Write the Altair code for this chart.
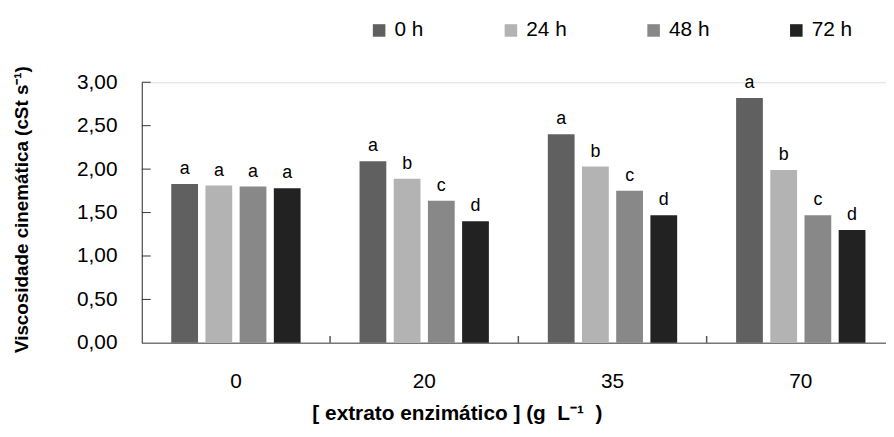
import altair as alt
import pandas as pd

concs = ["0", "20", "35", "70"]
hours = ["0 h", "24 h", "48 h", "72 h"]
visc_0h = [1.83, 2.09, 2.40, 2.82]
visc_24h = [1.81, 1.89, 2.03, 1.99]
visc_48h = [1.80, 1.635, 1.75, 1.47]
visc_72h = [1.78, 1.40, 1.47, 1.30]
letters_0h = ["a", "a", "a", "a"]
letters_24h = ["a", "b", "b", "b"]
letters_48h = ["a", "c", "c", "c"]
letters_72h = ["a", "d", "d", "d"]
colors = ["#606060", "#b3b3b3", "#888888", "#222222"]
y_ticks = [0.0, 0.5, 1.0, 1.5, 2.0, 2.5, 3.0]

series = [visc_0h, visc_24h, visc_48h, visc_72h]
letters = [letters_0h, letters_24h, letters_48h, letters_72h]
rows = []
for h, vals, lets in zip(hours, series, letters):
    for c, v, l in zip(concs, vals, lets):
        rows.append({"conc": c, "hour": h, "visc": v, "letter": l})
df = pd.DataFrame(rows)
tick_df = pd.DataFrame({"visc": y_ticks[1:]})
bound_df = pd.DataFrame({"conc": concs[1:]})

FONT = "Liberation Sans"
W, H = 760, 263

x_scale = alt.Scale(paddingInner=0, paddingOuter=0)
y_scale = alt.Scale(domain=[0, 3], nice=False)
off_scale = alt.Scale(paddingInner=0.217, paddingOuter=0.862)

x_enc = alt.X(
    "conc:N", sort=concs, scale=x_scale,
    axis=alt.Axis(
        title="[ extrato enzimático ] (g\u00a0 L⁻¹\u00a0 )",
        labelAngle=0, labelFontSize=21, labelFont=FONT, labelColor="#000",
        labelPadding=28, tickSize=0, domainColor="#777777", domainWidth=1.5,
        titleFont=FONT, titleFontSize=21, titleFontWeight="bold", titleColor="#000",
        titleX=318, titleY=77, titleAlign="center", titleBaseline="alphabetic",
        grid=False,
    ),
)
y_enc = alt.Y(
    "visc:Q", scale=y_scale,
    axis=alt.Axis(
        title="Viscosidade cinemática (cSt s⁻¹)",
        values=y_ticks, labelExpr="replace(format(datum.value, '.2f'), '.', ',')",
        labelFontSize=21, labelFont=FONT, labelColor="#000", labelPadding=25,
        tickSize=0, domainColor="#333333", grid=False,
        titleFont=FONT, titleFontSize=19, titleFontWeight="bold", titleColor="#000",
        titleX=-121, titleY=128, titleAlign="center", titleBaseline="middle",
    ),
)

bars = alt.Chart(df).mark_bar().encode(
    x=x_enc,
    xOffset=alt.XOffset("hour:N", sort=hours, scale=off_scale),
    y=y_enc,
    color=alt.Color(
        "hour:N", sort=hours, scale=alt.Scale(domain=hours, range=colors),
        legend=alt.Legend(
            title=None, orient="none", legendX=229, legendY=-63,
            direction="horizontal", symbolType="square", symbolSize=160,
            symbolStrokeWidth=0, labelFontSize=21, labelFont=FONT,
            labelColor="#000", labelOffset=5, columnPadding=77,
        ),
    ),
)

text = alt.Chart(df).mark_text(
    baseline="bottom", dy=-6, fontSize=18, font=FONT, color="#000"
).encode(
    x=alt.X("conc:N", sort=concs),
    xOffset=alt.XOffset("hour:N", sort=hours),
    y=alt.Y("visc:Q"),
    text="letter:N",
)

yticks = alt.Chart(tick_df).mark_rule(color="#333333", strokeWidth=1).encode(
    y=alt.Y("visc:Q"),
    x=alt.value(0),
    x2=alt.value(9),
)

xticks = alt.Chart(bound_df).mark_rule(color="#555555", strokeWidth=1.5).encode(
    x=alt.X("conc:N", sort=concs, bandPosition=0),
    y=alt.value(H),
    y2=alt.value(H - 7),
)

chart = alt.layer(bars, text, yticks, xticks).properties(
    width=W, height=H,
    autosize=alt.AutoSizeParams(type="none"),
    padding={"left": 135, "top": 73, "right": -9, "bottom": 85},
).configure_view(stroke=None).configure(background="white")

chart.save("out.html", embed_options={"renderer": "svg", "actions": False})
